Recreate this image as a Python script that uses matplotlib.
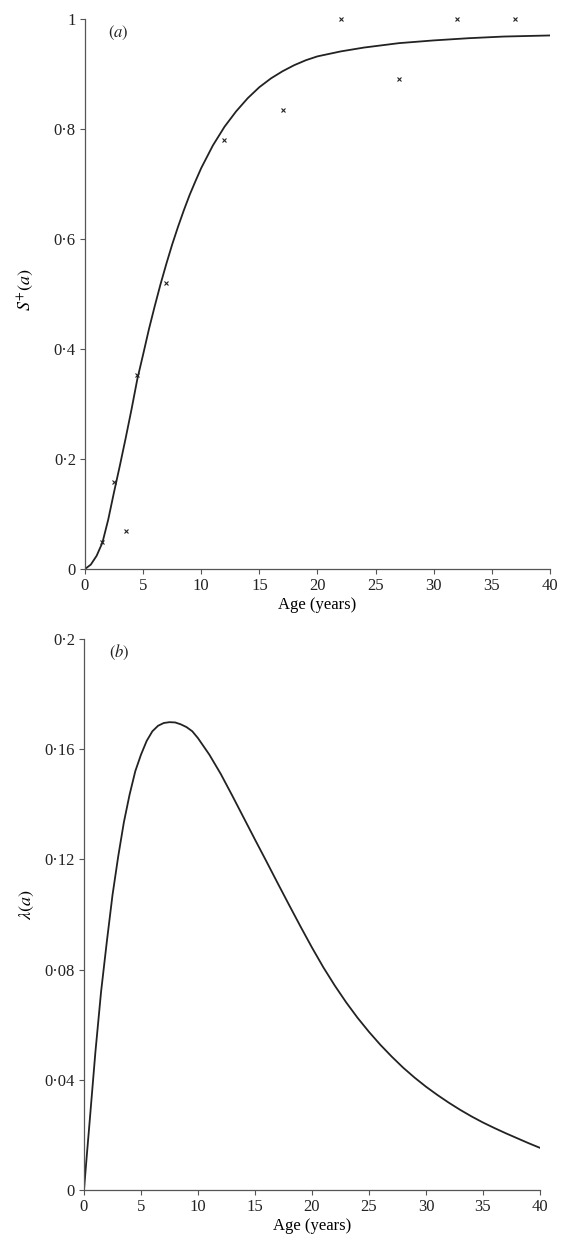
import matplotlib
matplotlib.use("Agg")
import matplotlib.pyplot as plt
from matplotlib.ticker import FuncFormatter

# (a) observed seropositive fraction by age
obs_age = [1.5, 2.5, 3.5, 4.5, 7, 12, 17, 22, 27, 32, 37]
obs_frac = [0.05, 0.158, 0.069, 0.353, 0.52, 0.78, 0.835, 1.0, 0.89, 1.0, 1.0]

# (a) fitted curve
fit_age = [0, 0.5, 1, 1.5, 2, 2.5, 3, 3.5, 4, 4.5, 5, 5.5, 6, 6.5, 7, 7.5, 8,
           8.5, 9, 9.5, 10, 11, 12, 13, 14, 15, 16, 17, 18, 19, 20, 22, 24,
           27, 30, 33, 36, 40]
fit_frac = [0, 0.008, 0.024, 0.048, 0.09, 0.14, 0.188, 0.238, 0.29, 0.345,
            0.39, 0.436, 0.478, 0.518, 0.555, 0.59, 0.622, 0.652, 0.68, 0.705,
            0.729, 0.77, 0.804, 0.832, 0.856, 0.876, 0.892, 0.905, 0.916,
            0.925, 0.932, 0.941, 0.948, 0.956, 0.961, 0.965, 0.968, 0.970]

# (b) force of infection by age
foi_age = [0, 0.25, 0.5, 0.75, 1, 1.5, 2, 2.5, 3, 3.5, 4, 4.5, 5, 5.5, 6, 6.5,
           7, 7.5, 8, 8.5, 9, 9.5, 10, 10.5, 11, 12, 13, 14, 15, 16, 17, 18,
           19, 20, 21, 22, 23, 24, 25, 26, 27, 28, 29, 30, 31, 32, 33, 34, 35,
           36, 37, 38, 39, 40]
foi_val = [0, 0.0127, 0.025, 0.0375, 0.05, 0.072, 0.09, 0.107, 0.121, 0.1335,
           0.1435, 0.152, 0.158, 0.163, 0.1665, 0.1685, 0.1695, 0.1698,
           0.1697, 0.169, 0.168, 0.1665, 0.164, 0.161, 0.158, 0.151, 0.1432,
           0.1352, 0.1272, 0.1193, 0.1113, 0.1034, 0.0956, 0.0880, 0.0808,
           0.0742, 0.0681, 0.0625, 0.0574, 0.0527, 0.0484, 0.0444, 0.0408,
           0.0375, 0.0345, 0.0317, 0.0291, 0.0267, 0.0245, 0.0225, 0.0206,
           0.0188, 0.0170, 0.0153]

a_ticks_y = [0, 0.2, 0.4, 0.6, 0.8, 1.0]
b_ticks_y = [0, 0.04, 0.08, 0.12, 0.16, 0.2]
x_ticks = [0, 5, 10, 15, 20, 25, 30, 35, 40]

plt.rcParams['font.family'] = ['Liberation Serif', 'DejaVu Serif']
plt.rcParams['mathtext.fontset'] = 'stix'
plt.rcParams['font.size'] = 12

ink = '#222222'
dot_fmt = FuncFormatter(lambda v, p: f"{v:g}".replace('.', '\u00b7'))

fig = plt.figure(figsize=(5.61, 12.47), dpi=100)
ax1 = fig.add_axes([0.1515, 0.5437, 0.8289, 0.4411])
ax2 = fig.add_axes([0.1497, 0.0457, 0.8128, 0.4419])

ax1.plot(fit_age, fit_frac, color=ink, lw=1.3)
ax1.plot(obs_age, obs_frac, 'x', color=ink, ms=3.5, mew=0.8, clip_on=False)
ax1.set_ylim(0, 1)
ax1.set_yticks(a_ticks_y)
ax1.set_ylabel(r'$S^{+}(a)$', fontsize=13)
ax1.yaxis.set_label_coords(-0.105, 0.507)
ax1.text(0.05, 0.975, r'$(a)$', transform=ax1.transAxes, fontsize=12,
         va='center', ha='left', color=ink)

ax2.plot(foi_age, foi_val, color=ink, lw=1.3)
ax2.set_ylim(0, 0.2)
ax2.set_yticks(b_ticks_y)
ax2.set_ylabel(r'$\lambda(a)$', fontsize=13)
ax2.yaxis.set_label_coords(-0.105, 0.517)
ax2.text(0.055, 0.975, r'$(b)$', transform=ax2.transAxes, fontsize=12,
         va='center', ha='left', color=ink)

for ax in (ax1, ax2):
    ax.set_xlim(0, 40)
    ax.set_xticks(x_ticks)
    ax.xaxis.set_major_formatter(dot_fmt)
    ax.yaxis.set_major_formatter(dot_fmt)
    ax.set_xlabel('Age (years)', labelpad=2)
    for side in ('top', 'right'):
        ax.spines[side].set_visible(False)
    for side in ('left', 'bottom'):
        ax.spines[side].set_color('#555555')
        ax.spines[side].set_linewidth(0.9)
    ax.tick_params(direction='out', length=3.5, width=0.8, color='#555555',
                   labelcolor=ink, pad=3)

fig.savefig('out.png', dpi=100)
